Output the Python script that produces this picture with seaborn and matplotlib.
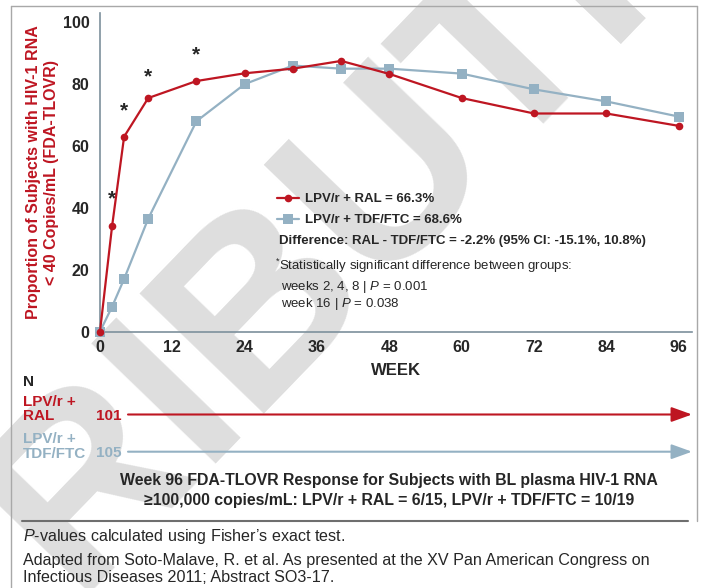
import matplotlib
matplotlib.use("Agg")
import matplotlib.pyplot as plt
import seaborn as sns
import pandas as pd
from matplotlib.lines import Line2D
from matplotlib.patches import FancyArrowPatch

# Data
weeks = [0, 2, 4, 8, 16, 24, 32, 40, 48, 60, 72, 84, 96]
ral = [0, 34, 63, 75.5, 81, 83.5, 85, 87.5, 83.3, 75.5, 70.5, 70.5, 66.5]
tdf = [0, 8, 17, 36.5, 68, 80, 86, 85, 85, 83.4, 78.3, 74.4, 69.5]
arm_labels = ["LPV/r + RAL = 66.3%", "LPV/r + TDF/FTC = 68.6%"]
star_weeks = [2, 4, 8, 16]
star_y = [43, 71.5, 82.5, 89.5]
x_ticks = [0, 12, 24, 36, 48, 60, 72, 84, 96]
y_ticks = [0, 20, 40, 60, 80, 100]
n_labels = ["LPV/r +\nRAL", "LPV/r +\nTDF/FTC"]
n_values = ["101", "105"]

RED = "#BE1622"
BLUE = "#94B1C3"
GRID = "#7d909c"

sns.set_style("white")
plt.rcParams['font.family'] = ['Liberation Sans', 'DejaVu Sans']
plt.rcParams['mathtext.fontset'] = 'custom'
plt.rcParams['mathtext.rm'] = 'Liberation Sans'
plt.rcParams['mathtext.it'] = 'Liberation Sans:italic'
plt.rcParams['mathtext.bf'] = 'Liberation Sans:bold'

W, H = 702, 588
fig = plt.figure(figsize=(W / 100, H / 100), dpi=100)


def px(x, y):
    # pixel position (from top-left) -> figure fraction
    return x / W, 1 - y / H


# watermark behind everything
fig.text(*px(250, 318), "DISTRIBUTION", rotation=46, fontsize=180, fontweight='bold',
         color='#dedede', ha='center', va='center', rotation_mode='anchor', zorder=-5)

ax = fig.add_axes([100 / W, 1 - 331.5 / H, 592 / W, 318.5 / H])
ax.patch.set_alpha(0)
ax.set_zorder(2)

df_ral = pd.DataFrame({'week': weeks, 'pct': ral})
df_tdf = pd.DataFrame({'week': weeks, 'pct': tdf})

sns.lineplot(data=df_tdf, x='week', y='pct', ax=ax, color=BLUE, marker='s',
             markersize=7, markeredgewidth=0, linewidth=1.6, label=arm_labels[1],
             clip_on=False, zorder=3)
sns.lineplot(data=df_ral, x='week', y='pct', ax=ax, color=RED, marker='o',
             markersize=5.5, markeredgewidth=0, linewidth=1.6, label=arm_labels[0],
             clip_on=False, zorder=4)

for wk, yy in zip(star_weeks, star_y):
    ax.text(wk, yy, "*", ha='center', va='center', fontsize=15, fontweight='bold')

ax.set_xlim(0, 98.2)
ax.set_ylim(0, 103)
ax.set_xticks(x_ticks)
ax.set_yticks(y_ticks)
for s in ['top', 'right']:
    ax.spines[s].set_visible(False)
for s in ['left', 'bottom']:
    ax.spines[s].set_color(GRID)
    ax.spines[s].set_linewidth(1.2)
ax.tick_params(axis='x', direction='in', length=5, width=1, color=GRID, pad=6,
               labelsize=11.5)
ax.tick_params(axis='y', direction='out', length=6, width=1, color=GRID, pad=1.5,
               labelsize=11.5)
for lab in ax.get_xticklabels() + ax.get_yticklabels():
    lab.set_fontweight('bold')

ax.set_xlabel("WEEK", fontsize=12, fontweight='bold', labelpad=6)
ax.set_ylabel("Proportion of Subjects with HIV-1 RNA\n< 40 Copies/mL (FDA-TLOVR)",
              fontsize=11.5, fontweight='bold', color=RED, linespacing=1.2, labelpad=3)

handles, labels = ax.get_legend_handles_labels()
order = [labels.index(a) for a in arm_labels]
ax.legend([handles[i] for i in order], [labels[i] for i in order],
          loc='upper left', bbox_to_anchor=px(277, 193), bbox_transform=fig.transFigure,
          frameon=False, borderpad=0, borderaxespad=0, handlelength=1.65,
          handletextpad=0.45, labelspacing=0.68, prop={'weight': 'bold', 'size': 9.5})

# in-plot notes
fig.text(*px(279, 241), "Difference: RAL - TDF/FTC = -2.2% (95% CI: -15.1%, 10.8%)",
         fontsize=9.5, fontweight='bold', va='center')
fig.text(*px(275, 266), r"$^{*}$Statistically significant difference between groups:",
         fontsize=9.5, va='center')
fig.text(*px(281, 287), r"weeks 2, 4, 8 | $P$ = 0.001", fontsize=9.5, va='center')
fig.text(*px(281, 304), r"week 16 | $P$ = 0.038", fontsize=9.5, va='center')

# N at risk
fig.text(*px(23, 382), "N", fontsize=11, fontweight='bold', va='center')
for lab, n, yy, col in zip(n_labels, n_values, [414.5, 451.7], [RED, BLUE]):
    first, second = lab.split("\n")
    fig.text(*px(23, yy - 13), first, fontsize=11, fontweight='bold', color=col, va='center')
    fig.text(*px(23, yy + 2), second, fontsize=11, fontweight='bold', color=col, va='center')
    fig.text(*px(96, yy + 1.5), n, fontsize=11, fontweight='bold', color=col, va='center')
    fig.add_artist(FancyArrowPatch(px(128, yy), px(692, yy), transform=fig.transFigure,
                                   arrowstyle='-|>,head_length=1.25,head_width=0.45',
                                   mutation_scale=10, color=col, lw=1.5,
                                   shrinkA=0, shrinkB=0))

fig.text(*px(389, 481), "Week 96 FDA-TLOVR Response for Subjects with BL plasma HIV-1 RNA",
         fontsize=11.4, fontweight='bold', ha='center', va='center')
fig.text(*px(389, 500), "≥100,000 copies/mL: LPV/r + RAL = 6/15, LPV/r + TDF/FTC = 10/19",
         fontsize=11.4, fontweight='bold', ha='center', va='center')

# frame and divider
fig.add_artist(Line2D([11 / W, 11 / W], [1 - 6 / H, 0], transform=fig.transFigure,
                      color='#a8a8a8', lw=1))
fig.add_artist(Line2D([11 / W, 697 / W], [1 - 6 / H, 1 - 6 / H], transform=fig.transFigure,
                      color='#a8a8a8', lw=1))
fig.add_artist(Line2D([697 / W, 697 / W], [1 - 6 / H, 1 - 521 / H], transform=fig.transFigure,
                      color='#a8a8a8', lw=1))
fig.add_artist(Line2D([22 / W, 688 / W], [1 - 521 / H, 1 - 521 / H], transform=fig.transFigure,
                      color='#6e6e6e', lw=1.5))

fig.text(*px(23, 536), r"$P$-values calculated using Fisher’s exact test.",
         fontsize=11.6, va='center')
fig.text(*px(23, 561), "Adapted from Soto-Malave, R. et al. As presented at the XV Pan American Congress on",
         fontsize=11.6, va='center')
fig.text(*px(23, 577), "Infectious Diseases 2011; Abstract SO3-17.", fontsize=11.6, va='center')

fig.savefig("out.png", dpi=100)
